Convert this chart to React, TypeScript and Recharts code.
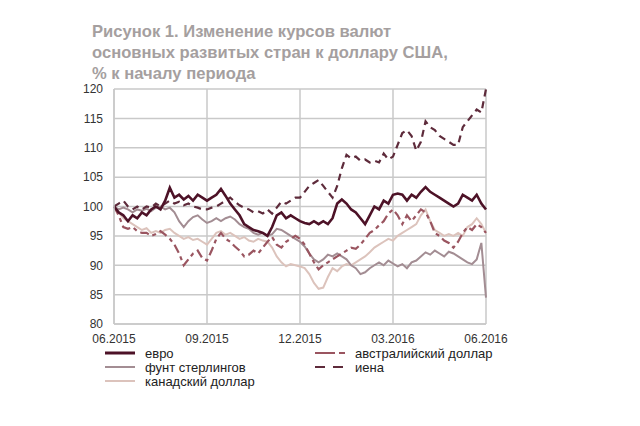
import React from 'react';
import { LineChart, Line, XAxis, YAxis, CartesianGrid } from 'recharts';

const periodTicks = ['06.2015', '09.2015', '12.2015', '03.2016', '06.2016'];
const valueTicks = [80, 85, 90, 95, 100, 105, 110, 115, 120];

const euro = [
    100, 99, 98.5, 97.5, 98.5, 98, 99, 98.5, 99.5, 100, 99.5, 101, 103.2, 101.5, 102, 101.2, 101.8, 101, 102, 101.5,
    101, 101.5, 102, 103, 101.8, 100.5, 99.5, 98.5, 97, 96.5, 96, 95.8, 95.5, 95, 96.5, 98.5, 99, 98, 98.5, 98,
    97.5, 97.2, 97, 97.5, 97, 97.5, 97, 98, 100.5, 101.2, 100.5, 99.5, 99, 98, 97, 98.5, 100, 99.5, 101, 100.5,
    102, 102.2, 102, 101, 102, 101.5, 102.5, 103.3, 102.5, 102, 101.5, 101, 100.5, 100, 100.5, 102, 101.5, 101, 102, 100.5,
    99.5,
];
const pound = [
    100, 99.5, 99.8, 99.5, 99, 99.5, 99.3, 99.6, 99.2, 99.8, 100, 99.5, 99.8, 99, 97.5, 96.5, 97.5, 98.2, 98.5, 97.8,
    97.2, 97.5, 98, 97.5, 98, 98.3, 97.8, 97, 96.5, 96.2, 95.5, 95.2, 95.5, 95, 95.3, 96.2, 96, 95.5, 95, 94.5,
    94, 93.2, 92, 91, 90.5, 91, 91.8, 91.5, 92, 91.5, 91, 90, 89.5, 88.5, 88.8, 89.5, 90, 90.5, 90, 90.8,
    90.3, 89.8, 90.2, 89.5, 90.5, 90.8, 91.5, 92.2, 91.8, 92.5, 92, 91.5, 92.3, 92, 91.5, 91, 90.5, 90.2, 91, 93.8,
    84.5,
];
const cad = [
    100, 99, 98, 97.5, 97, 96.5, 96, 96.3, 95.5, 95.8, 95.5, 96, 96.2, 95.5, 95, 94.5, 94.8, 94.3, 94.5, 94,
    93.5, 94.5, 95.5, 95.8, 95.2, 95.5, 95, 94.5, 94.8, 94.2, 94, 94.5, 94.2, 94, 93, 91.5, 90.5, 89.8, 90.2, 90,
    89.8, 89.5, 88.5, 87, 86, 86.2, 88, 89.5, 89, 89.8, 90.2, 90, 90.5, 91, 91.5, 92.2, 93, 93.5, 94, 94.5,
    94.2, 95, 95.5, 96, 96.5, 97, 98.5, 99.5, 97.5, 96, 95.5, 95, 95.3, 95, 95.5, 95, 96.5, 97, 98, 97,
    95.5,
];
const aud = [
    100, 98.5, 96.5, 96.2, 96.5, 95.8, 95.5, 95.5, 95, 95.3, 95.8, 95.2, 94.5, 93.5, 92, 90, 91, 92, 92.5, 91.2,
    90.8, 92.5, 94.5, 95.5, 94.5, 94, 93.2, 92.5, 91.5, 91.8, 92.5, 92, 93, 94, 94.8, 93.5, 93, 94, 94.5, 95,
    94.5, 93.5, 92, 90.5, 89.3, 90, 90.5, 91, 91.5, 92, 92.5, 93, 92.8, 93.5, 94.5, 95.5, 96, 96.8, 97.5, 98.8,
    99.5, 98.5, 97, 98.5, 97.5, 98.5, 99.5, 99, 97.5, 95.5, 95, 94.2, 93.8, 93, 94, 95.5, 96.5, 96, 97, 96.5,
    95.5,
];
const yen = [
    100, 100.5, 101, 100, 99.5, 100, 99.5, 100, 99.8, 100.5, 100, 100.5, 101, 100.5, 100.8, 100.2, 100.5, 100, 99.8, 99.5,
    99.5, 99.8, 100, 100.5, 101, 101.5, 100.8, 100.2, 99.8, 99.5, 99, 99.2, 98.8, 99.5, 98.8, 99.8, 100.8, 100.5, 101, 101.5,
    101.5, 102.5, 103.5, 104, 104.5, 103.5, 102.5, 101.5, 103.5, 106.5, 108.8, 108.2, 108.5, 107.8, 108, 107.5, 107.8, 107.5, 109, 108,
    108.5, 110.5, 112.5, 113, 112, 109.5, 111, 114.5, 113.5, 113, 112, 111.5, 111, 110.5, 110.5, 113.5, 114.5, 115.5, 116.5, 116,
    120,
];

const rows = euro.map((v, i) => ({
    i,
    euro: v,
    pound: pound[i],
    cad: cad[i],
    aud: aud[i],
    yen: yen[i],
}));

const C = {
    euro: '#4d1227',
    pound: '#a38d93',
    cad: '#dcc3bc',
    aud: '#9a5560',
    yen: '#5e2b3b',
};

const font = 'Arial, "Liberation Sans", sans-serif';

const LegendItem: React.FC<{ x: number; y: number; label: string; color: string; dash?: string; width?: number }> = ({ x, y, label, color, dash, width = 2 }) => (
    <div style={{ position: 'absolute', left: x, top: y - 8, height: 16, display: 'flex', alignItems: 'center' }}>
        <svg width={32} height={6} style={{ marginRight: 9 }}>
            <line x1={1} y1={3} x2={31} y2={3} stroke={color} strokeWidth={width} strokeDasharray={dash} />
        </svg>
        <span style={{ fontSize: 13, color: '#222', fontFamily: font }}>{label}</span>
    </div>
);

const App: React.FC = () => {
    return (
        <div style={{ position: 'absolute', left: 0, top: 0, width: 640, height: 426, background: '#fff', fontFamily: font }}>
            <div style={{ position: 'absolute', left: 92, top: 21, fontSize: 16.6, fontWeight: 'bold', color: '#a59f9f', lineHeight: '21px' }}>
                Рисунок 1. Изменение курсов валют<br />
                основных развитых стран к доллару США,<br />
                % к началу периода
            </div>
            <div style={{ position: 'absolute', left: 0, top: 0 }}>
                <LineChart width={640} height={345} data={rows} margin={{ top: 89, right: 154, left: 74, bottom: 0 }}>
                    <CartesianGrid stroke="#c9c9c9" strokeWidth={1.5} />
                    <XAxis
                        dataKey="i"
                        type="number"
                        domain={[0, 80]}
                        ticks={[0, 20, 40, 60, 80]}
                        tickFormatter={(v: number) => periodTicks[v / 20]}
                        height={21}
                        tickLine={false}
                        axisLine={{ stroke: '#c9c9c9', strokeWidth: 1.5 }}
                        tick={{ fontSize: 12, fill: '#333', fontFamily: font }}
                        tickMargin={4}
                        interval={0}
                    />
                    <YAxis
                        type="number"
                        domain={[80, 120]}
                        ticks={valueTicks}
                        width={40}
                        tickLine={false}
                        axisLine={{ stroke: '#c9c9c9', strokeWidth: 1.5 }}
                        tick={{ fontSize: 12, fill: '#333', fontFamily: font }}
                        tickMargin={5}
                        interval={0}
                    />
                    <Line dataKey="cad" stroke={C.cad} strokeWidth={2} dot={false} isAnimationActive={false} />
                    <Line dataKey="pound" stroke={C.pound} strokeWidth={2} dot={false} isAnimationActive={false} />
                    <Line dataKey="aud" stroke={C.aud} strokeWidth={2.2} strokeDasharray="9 4 4 4" dot={false} isAnimationActive={false} />
                    <Line dataKey="yen" stroke={C.yen} strokeWidth={2.2} strokeDasharray="7 5" dot={false} isAnimationActive={false} />
                    <Line dataKey="euro" stroke={C.euro} strokeWidth={2.6} dot={false} isAnimationActive={false} />
                </LineChart>
            </div>
            <LegendItem x={104} y={353} label="евро" color={C.euro} width={3} />
            <LegendItem x={104} y={367} label="фунт стерлингов" color={C.pound} />
            <LegendItem x={104} y={381} label="канадский доллар" color={C.cad} />
            <LegendItem x={314} y={353} label="австралийский доллар" color={C.aud} dash="20 4 6 4" width={2.2} />
            <LegendItem x={314} y={367} label="иена" color={C.yen} dash="10 8" width={2.2} />
        </div>
    );
};

export default App;
